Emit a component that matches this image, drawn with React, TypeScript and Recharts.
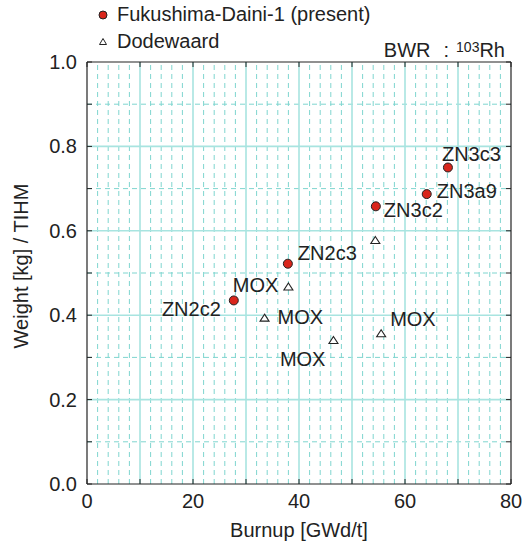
import { ScatterChart, Scatter, XAxis, YAxis, ReferenceLine, Legend, Label } from 'recharts';

// Fukushima-Daini-1 (present work)
const FUKU_BURNUP = [27.7, 37.9, 54.5, 64.1, 68.1];
const FUKU_WEIGHT = [0.435, 0.522, 0.658, 0.687, 0.75];
const FUKU_LABELS = ['ZN2c2', 'ZN2c3', 'ZN3c2', 'ZN3a9', 'ZN3c3'];

// Dodewaard
const DODE_BURNUP = [38.0, 33.5, 46.5, 55.5, 54.4];
const DODE_WEIGHT = [0.467, 0.393, 0.34, 0.356, 0.577];
const DODE_LABELS = ['MOX', 'MOX', 'MOX', 'MOX', ''];

const SERIES_NAMES = ['Fukushima-Daini-1 (present)', 'Dodewaard'];

const X_TICKS = [0, 10, 20, 30, 40, 50, 60, 70, 80];
const Y_TICKS = [0, 0.1, 0.2, 0.3, 0.4, 0.5, 0.6, 0.7, 0.8, 0.9, 1.0];

// layout
const W = 530;
const H = 550;
const PLOT_TOP = 62;
const PLOT_RIGHT = 511;
const FONT = '"Liberation Sans", Arial, Helvetica, sans-serif';
const INK = '#222';
const GRID_SOLID = '#a8e4e0';
const GRID_DASH = '#7fd5cf';

// label offsets (dx, dy to baseline, anchor) per point
const FUKU_LABEL_POS: [number, number, string][] = [
    [-13, 16, 'end'],
    [10, -4, 'start'],
    [8, 11, 'start'],
    [10, 4, 'start'],
    [-6, -7, 'start'],
];
const DODE_LABEL_POS: [number, number, string][] = [
    [-10, 5, 'end'],
    [13, 6, 'start'],
    [-8, 25, 'end'],
    [9, -8, 'start'],
    [0, 0, 'start'],
];

const fukuData = FUKU_BURNUP.map((x, i) => ({ x, y: FUKU_WEIGHT[i], label: FUKU_LABELS[i], i }));
const dodeData = DODE_BURNUP.map((x, i) => ({ x, y: DODE_WEIGHT[i], label: DODE_LABELS[i], i }));

// grid lines: dashed every 2 GWd/t and 0.1, solid at the labelled majors
const xMinor = Array.from({ length: 39 }, (_, i) => (i + 1) * 2).filter((v) => v % 10 !== 0);
const xMajor = [10, 20, 30, 40, 50, 60, 70];
const yMinor = [0.1, 0.3, 0.5, 0.7, 0.9];
const yMajor = [0.2, 0.4, 0.6, 0.8];

const pointLabel = (cx: number, cy: number, text: string, pos: [number, number, string]) =>
    text ? (
        <text x={cx + pos[0]} y={cy + pos[1]} textAnchor={pos[2] as any} fontSize={20} fill={INK} fontFamily={FONT}>
            {text}
        </text>
    ) : null;

const CircleShape = (props: any) => {
    const { cx, cy, payload } = props;
    return (
        <g>
            <circle cx={cx} cy={cy} r={4.5} fill="#d9261c" stroke={INK} strokeWidth={1} />
            {pointLabel(cx, cy, payload.label, FUKU_LABEL_POS[payload.i])}
        </g>
    );
};

const TriangleShape = (props: any) => {
    const { cx, cy, payload } = props;
    return (
        <g>
            <path d={`M${cx},${cy - 4} L${cx + 4.5},${cy + 3} L${cx - 4.5},${cy + 3} Z`} fill="#fff" stroke={INK} strokeWidth={1.1} />
            {pointLabel(cx, cy, payload.label, DODE_LABEL_POS[payload.i])}
        </g>
    );
};

const XTick = ({ x, y, payload }: any) => (
    <g>
        <line x1={x} y1={y} x2={x} y2={y - 5} stroke={INK} />
        <line x1={x} y1={PLOT_TOP} x2={x} y2={PLOT_TOP + 5} stroke={INK} />
        {payload.value % 20 === 0 && (
            <text x={x} y={y + 24} textAnchor="middle" fontSize={20} fill={INK} fontFamily={FONT}>
                {payload.value}
            </text>
        )}
    </g>
);

const YTick = ({ x, y, payload }: any) => {
    const showLabel = Math.round(payload.value * 10) % 2 === 0;
    return (
        <g>
            <line x1={x} y1={y} x2={x + 5} y2={y} stroke={INK} />
            <line x1={PLOT_RIGHT} y1={y} x2={PLOT_RIGHT - 5} y2={y} stroke={INK} />
            {showLabel && (
                <text x={x - 10} y={y + 7} textAnchor="end" fontSize={20} fill={INK} fontFamily={FONT}>
                    {payload.value.toFixed(1)}
                </text>
            )}
        </g>
    );
};

const LegendContent = ({ payload }: any) => {
    // keep the series order of the figure (present work first)
    const items = [...(payload || [])].sort(
        (a: any, b: any) => SERIES_NAMES.indexOf(a.value) - SERIES_NAMES.indexOf(b.value)
    );
    return (
        <div style={{ fontFamily: FONT, fontSize: 20, color: INK }}>
            {items.map((p: any) => (
                <div key={p.value} style={{ display: 'flex', alignItems: 'center', height: 27 }}>
                    <svg width={14} height={14} style={{ marginRight: 7 }}>
                        {p.value === SERIES_NAMES[0] ? (
                            <circle cx={7} cy={7} r={4} fill="#d9261c" stroke={INK} />
                        ) : (
                            <path d="M7,3.5 L10.5,9.5 L3.5,9.5 Z" fill="#fff" stroke={INK} />
                        )}
                    </svg>
                    <span>{p.value}</span>
                </div>
            ))}
        </div>
    );
};

export default function App() {
    return (
        <div style={{ position: 'absolute', left: 0, top: 0, width: W, height: H, background: '#fff', fontFamily: FONT }}>
            <ScatterChart width={W} height={H} margin={{ top: PLOT_TOP, right: W - PLOT_RIGHT, bottom: 0, left: 0 }}>
                {xMinor.map((v) => (
                    <ReferenceLine key={`xm${v}`} x={v} stroke={GRID_DASH} strokeDasharray="5 4" />
                ))}
                {yMinor.map((v) => (
                    <ReferenceLine key={`ym${v}`} y={v} stroke={GRID_DASH} strokeDasharray="5 4" />
                ))}
                {xMajor.map((v) => (
                    <ReferenceLine key={`xM${v}`} x={v} stroke={GRID_SOLID} strokeWidth={1.6} />
                ))}
                {yMajor.map((v) => (
                    <ReferenceLine key={`yM${v}`} y={v} stroke={GRID_SOLID} strokeWidth={1.6} />
                ))}
                <ReferenceLine y={1} stroke={INK} strokeWidth={1.2} />
                <ReferenceLine x={80} stroke={INK} strokeWidth={1.2} />
                <XAxis
                    type="number"
                    dataKey="x"
                    domain={[0, 80]}
                    ticks={X_TICKS}
                    interval={0}
                    height={66}
                    tickSize={0}
                    tickMargin={0}
                    tickLine={false}
                    tick={<XTick />}
                    axisLine={{ stroke: INK, strokeWidth: 1.2 }}
                    allowDataOverflow
                >
                    <Label
                        content={({ viewBox }: any) => (
                            <text x={viewBox.x + viewBox.width / 2} y={viewBox.y + 53} textAnchor="middle" fontSize={20} fill={INK} fontFamily={FONT}>
                                Burnup [GWd/t]
                            </text>
                        )}
                    />
                </XAxis>
                <YAxis
                    type="number"
                    dataKey="y"
                    domain={[0, 1]}
                    ticks={Y_TICKS}
                    interval={0}
                    width={87}
                    tickSize={0}
                    tickMargin={0}
                    tickLine={false}
                    tick={<YTick />}
                    axisLine={{ stroke: INK, strokeWidth: 1.2 }}
                    allowDataOverflow
                >
                    <Label
                        content={({ viewBox }: any) => {
                            const cx = 21;
                            const cy = viewBox.y + viewBox.height / 2 - 7;
                            return (
                                <text x={cx} y={cy} transform={`rotate(-90 ${cx} ${cy})`} textAnchor="middle" dominantBaseline="central" fontSize={20} fill={INK} fontFamily={FONT}>
                                    Weight [kg] / TIHM
                                </text>
                            );
                        }}
                    />
                </YAxis>
                <Legend
                    layout="horizontal"
                    align="center"
                    verticalAlign="middle"
                    content={<LegendContent />}
                    wrapperStyle={{ top: 1, left: 96, width: 'auto', margin: 0 }}
                />
                <Scatter name={SERIES_NAMES[0]} data={fukuData} shape={<CircleShape />} isAnimationActive={false} />
                <Scatter name={SERIES_NAMES[1]} data={dodeData} shape={<TriangleShape />} isAnimationActive={false} />
            </ScatterChart>
            <div style={{ position: 'absolute', right: W - 505, top: 40, fontSize: 20, lineHeight: '20px', color: INK, whiteSpace: 'pre' }}>
                <span>BWR</span>
                <span style={{ marginLeft: 13 }}>:</span>
                <sup style={{ marginLeft: 7, fontSize: 14, verticalAlign: 'top', position: 'relative', top: -3 }}>103</sup>
                <span>Rh</span>
            </div>
        </div>
    );
}
